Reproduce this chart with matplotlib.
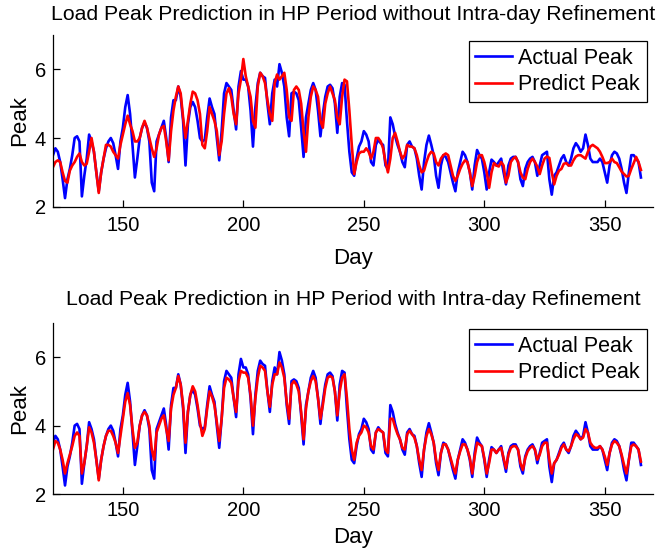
import matplotlib
matplotlib.use("Agg")
import matplotlib.pyplot as plt
import numpy as np

plt.rcParams['font.family'] = ['Liberation Sans', 'DejaVu Sans']

day_start = 121
day_end = 365

actual_peak = [
    3.5, 3.7, 3.6, 3.3, 2.8, 2.25, 2.8, 3.1, 3.5, 4.0,
    4.05, 3.9, 2.3, 2.9, 3.4, 4.1, 3.9, 3.6, 3.0, 2.45,
    3.0, 3.4, 3.7, 3.9, 4.0, 3.85, 3.5, 3.1, 3.9, 4.3,
    4.9, 5.25, 4.7, 3.8, 2.85, 3.4, 4.0, 4.3, 4.45, 4.3,
    3.9, 2.7, 2.45, 3.9, 4.1, 4.3, 4.5, 4.0, 3.3, 4.6,
    5.1, 5.1, 5.5, 5.2, 4.5, 3.2, 4.4, 4.9, 5.05, 4.9,
    4.5, 4.0, 3.9, 3.95, 4.6, 5.15, 4.9, 4.7, 4.0, 3.35,
    4.2, 5.3, 5.6, 5.5, 5.4, 4.8, 4.25, 5.5, 5.95, 5.7,
    5.7, 5.5, 4.8, 3.75, 4.9, 5.6, 5.9, 5.8, 5.75, 5.0,
    4.4, 5.3, 5.7, 5.5, 6.15, 5.9, 5.5, 4.6, 4.05, 5.3,
    5.35, 5.3, 5.1, 4.3, 3.45, 4.6, 5.0, 5.4, 5.6, 5.4,
    4.8, 4.05, 4.7, 5.2, 5.5, 5.55, 5.45, 5.0, 4.15, 5.2,
    5.6, 5.55, 4.5, 3.6, 3.0, 2.9, 3.4, 3.75, 3.9, 4.2,
    4.1, 3.9, 3.3, 3.2, 3.8, 3.95, 3.85, 3.8, 3.2, 3.1,
    4.6, 4.4, 4.05, 3.8, 3.6, 3.3, 3.15, 3.8, 3.9, 3.75,
    3.7, 3.4, 2.9, 2.5, 3.3, 3.8, 4.07, 3.8, 3.5, 2.9,
    2.55, 3.2, 3.5, 3.45, 3.3, 3.0, 2.7, 2.45, 3.0, 3.3,
    3.6, 3.5, 3.3, 3.0, 2.5, 3.2, 3.65, 3.5, 3.4, 3.0,
    2.5, 3.0, 3.37, 3.3, 3.2, 3.3, 3.4, 3.0, 2.65, 3.2,
    3.4, 3.45, 3.45, 3.3, 2.8, 2.6, 3.1, 3.3, 3.4, 3.45,
    3.3, 2.9, 3.2, 3.5, 3.55, 3.6, 2.8, 2.35, 2.9, 3.0,
    3.2, 3.4, 3.5, 3.3, 3.2, 3.4, 3.7, 3.85, 3.75, 3.6,
    3.7, 4.1, 3.8, 3.4, 3.3, 3.3, 3.3, 3.4, 3.3, 3.0,
    2.7, 3.2, 3.5, 3.6, 3.55, 3.4, 3.1, 2.7, 2.4, 3.0,
    3.5, 3.5, 3.4, 3.3, 2.85,
]

predict_no_refine = [
    3.15, 3.3, 3.35, 3.3, 3.0, 2.75, 2.7, 3.05, 3.2, 3.3,
    3.45, 3.55, 3.3, 3.2, 3.25, 3.6, 4.0, 3.6, 3.0, 2.4,
    3.0, 3.4, 3.8, 3.8, 3.75, 3.6, 3.5, 3.4, 3.8, 4.1,
    4.4, 4.65, 4.4, 4.2, 3.9, 3.9, 4.0, 4.3, 4.5, 4.3,
    4.0, 3.7, 3.45, 3.7, 4.1, 4.3, 4.35, 3.9, 3.35, 4.2,
    4.8, 5.2, 5.5, 5.3, 4.6, 4.0, 4.5, 5.0, 5.35, 5.3,
    5.1, 4.7, 3.8, 3.7, 4.2, 4.9, 4.7, 4.5, 4.2, 3.5,
    3.9, 4.7, 5.3, 5.45, 5.2, 4.7, 4.4, 5.3, 5.7, 6.3,
    5.8, 5.5, 5.2, 4.5, 4.3, 5.5, 5.9, 5.8, 5.6, 5.1,
    4.7, 4.5, 5.6, 5.85, 5.7, 5.8, 5.9, 5.4, 4.6, 4.5,
    5.4, 5.5, 5.4, 5.0, 4.2, 3.6, 4.6, 5.2, 5.5, 5.4,
    5.2, 4.5, 4.3, 5.0, 5.3, 5.5, 5.3, 5.1, 4.6, 4.4,
    5.2, 5.7, 5.65, 4.8, 3.8, 2.95, 3.3, 3.55, 3.6, 3.6,
    3.7, 3.6, 3.4, 3.6, 4.0, 4.0, 3.9, 3.7, 3.3, 3.0,
    3.4, 4.0, 4.15, 3.9, 3.6, 3.4, 3.5, 3.8, 3.75, 3.75,
    3.7, 3.5, 3.2, 3.0, 3.05, 3.3, 3.5, 3.6, 3.55, 3.3,
    3.2, 3.4, 3.5, 3.55, 3.5, 3.2, 2.9, 2.75, 2.9, 3.1,
    3.25, 3.35, 3.3, 3.0, 2.6, 2.9, 3.3, 3.5, 3.5, 3.3,
    3.0, 2.55, 3.0, 3.27, 3.2, 3.17, 3.3, 3.2, 2.7, 2.9,
    3.3, 3.4, 3.45, 3.3, 3.0, 2.85, 2.8, 3.1, 3.3, 3.4,
    3.3, 3.17, 2.95, 3.2, 3.4, 3.46, 3.42, 3.0, 2.65, 2.9,
    3.05, 3.1, 3.25, 3.27, 3.2, 3.2, 3.35, 3.46, 3.5, 3.5,
    3.45, 3.4, 3.6, 3.75, 3.8, 3.75, 3.7, 3.6, 3.45, 3.27,
    3.27, 3.3, 3.4, 3.3, 3.27, 3.15, 3.02, 2.95, 2.88, 2.9,
    3.1, 3.27, 3.45, 3.3, 3.07,
]

predict_refine = [
    3.3, 3.55, 3.5, 3.3, 3.0, 2.6, 2.9, 3.15, 3.4, 3.7,
    3.8, 3.7, 2.6, 2.9, 3.4, 3.95, 3.8, 3.5, 3.0, 2.4,
    3.0, 3.4, 3.7, 3.85, 3.85, 3.7, 3.5, 3.2, 3.7, 4.2,
    4.7, 4.95, 4.6, 3.9, 3.35, 3.5, 4.0, 4.3, 4.4, 4.3,
    4.0, 3.3, 3.0, 3.8, 4.0, 4.2, 4.3, 3.9, 3.55, 4.5,
    4.9, 5.1, 5.45, 5.2, 4.6, 3.5, 4.4, 4.9, 5.15, 5.0,
    4.6, 4.1, 3.7, 3.9, 4.5, 5.0, 4.85, 4.6, 4.1, 3.55,
    4.2, 5.1, 5.4, 5.35, 5.25, 4.8, 4.4, 5.3, 5.6, 5.55,
    5.55, 5.4, 4.9, 4.0, 4.8, 5.4, 5.75, 5.7, 5.6, 5.0,
    4.55, 5.2, 5.5, 5.5, 5.85, 5.7, 5.4, 4.7, 4.2, 5.2,
    5.3, 5.2, 5.0, 4.4, 3.6, 4.5, 5.0, 5.3, 5.45, 5.3,
    4.8, 4.2, 4.6, 5.1, 5.4, 5.45, 5.4, 5.0, 4.3, 5.0,
    5.4, 5.5, 4.8, 3.9, 3.3, 3.0, 3.5, 3.7, 3.8, 4.0,
    3.95, 3.8, 3.4, 3.3, 3.8, 3.9, 3.85, 3.8, 3.3, 3.2,
    4.2, 4.2, 3.95, 3.75, 3.6, 3.35, 3.3, 3.75, 3.85, 3.75,
    3.65, 3.4, 3.0, 2.7, 3.3, 3.7, 3.9, 3.75, 3.5, 3.0,
    2.7, 3.2, 3.45, 3.45, 3.3, 3.05, 2.8, 2.6, 3.0, 3.25,
    3.45, 3.45, 3.3, 3.05, 2.6, 3.1, 3.5, 3.45, 3.4, 3.05,
    2.6, 2.9, 3.3, 3.3, 3.2, 3.3, 3.35, 3.05, 2.75, 3.15,
    3.35, 3.4, 3.4, 3.3, 2.9, 2.7, 3.05, 3.25, 3.35, 3.4,
    3.3, 3.0, 3.15, 3.4, 3.5, 3.5, 3.0, 2.6, 2.9, 3.0,
    3.15, 3.35, 3.45, 3.3, 3.25, 3.4, 3.6, 3.75, 3.7, 3.6,
    3.65, 3.9, 3.8, 3.5, 3.4, 3.35, 3.35, 3.4, 3.3, 3.1,
    2.85, 3.2, 3.45, 3.55, 3.5, 3.4, 3.15, 2.85, 2.6, 3.0,
    3.4, 3.45, 3.4, 3.3, 2.95,
]

titles = ["Load Peak Prediction in HP Period without Intra-day Refinement",
          "Load Peak Prediction in HP Period with Intra-day Refinement"]
legend_labels = ["Actual Peak", "Predict Peak"]
x_ticks = [150, 200, 250, 300, 350]
y_ticks = [2, 4, 6]

days = np.arange(day_start, day_end + 1)

fig = plt.figure(figsize=(6.68, 5.5), dpi=100)
positions = [[0.0793, 0.6242, 0.8982, 0.3122],
             [0.0793, 0.1018, 0.8982, 0.3109]]
preds = [predict_no_refine, predict_refine]
xlabel_pads = [9, 5]
title_pads = [11, 13]
tick_pads = [7, 5]

for i, (pos, pred, title) in enumerate(zip(positions, preds, titles)):
    ax = fig.add_axes(pos)
    ax.plot(days, actual_peak, color=(0, 0, 1), lw=1.9, label=legend_labels[0])
    ax.plot(days, pred, color=(1, 0, 0), lw=1.9, label=legend_labels[1])
    ax.set_xlim(121, 370)
    ax.set_ylim(2, 7)
    ax.set_xticks(x_ticks)
    ax.set_yticks(y_ticks)
    ax.spines['top'].set_visible(False)
    ax.spines['right'].set_visible(False)
    for s in ['left', 'bottom']:
        ax.spines[s].set_linewidth(0.9)
    ax.tick_params(direction='in', length=5, width=0.9, labelsize=14.5)
    ax.tick_params(axis='x', pad=tick_pads[i])
    ax.tick_params(axis='y', pad=5)
    ax.set_xlabel("Day", fontsize=16, labelpad=xlabel_pads[i])
    ax.set_ylabel("Peak", fontsize=16, labelpad=3)
    ax.set_title(title, fontsize=15.3, pad=title_pads[i])
    leg = ax.legend(loc='upper right', fontsize=15.5, fancybox=False,
                    edgecolor='black', framealpha=1, handlelength=1.7,
                    borderpad=0.3, labelspacing=0.25, handletextpad=0.3,
                    borderaxespad=0.3)
    leg.get_frame().set_linewidth(0.9)

fig.savefig("out.png", dpi=100)
